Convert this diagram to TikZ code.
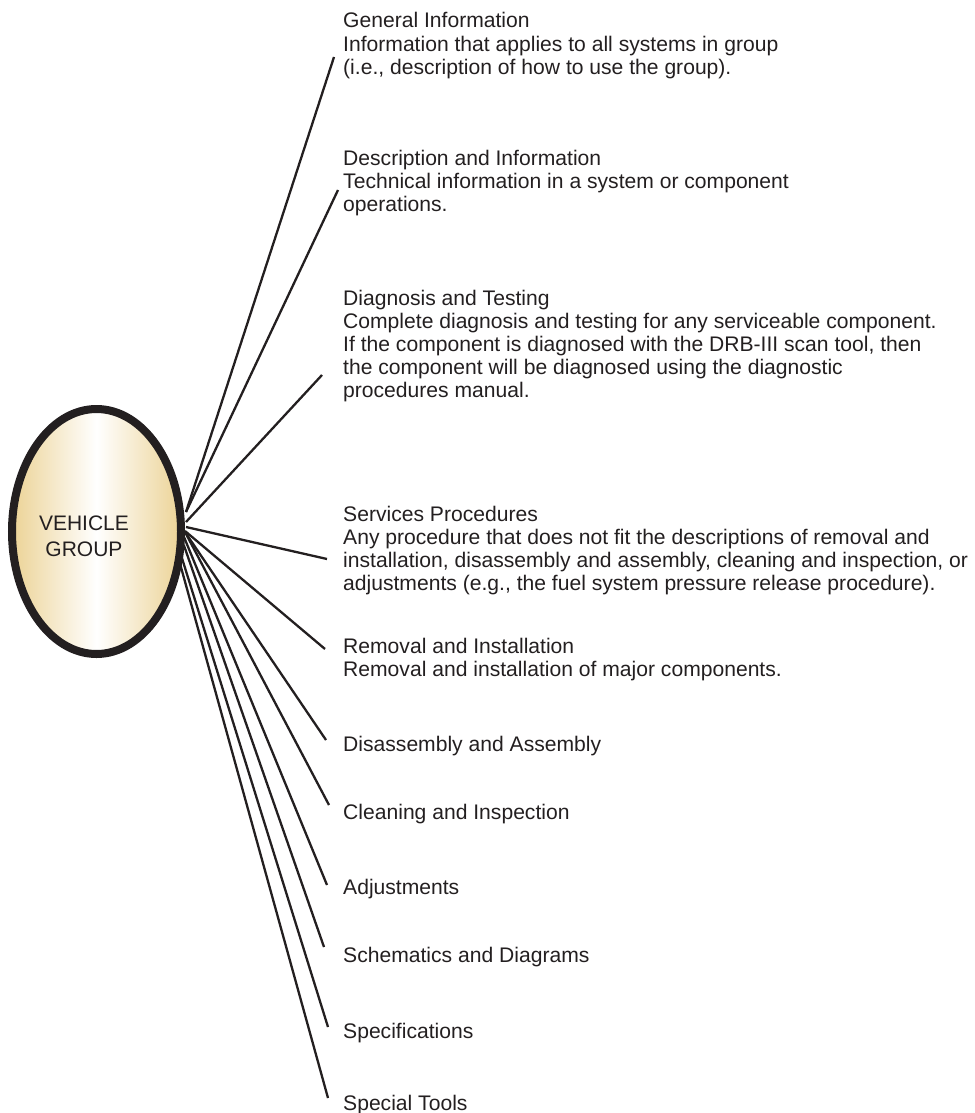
\documentclass[tikz,border=0pt]{standalone}
\usepackage{fontspec}
\setmainfont{Liberation Sans}
\usetikzlibrary{shapes.geometric}
\definecolor{ink}{RGB}{35,31,32}
\definecolor{gold}{RGB}{236,211,150}
\begin{document}
\begin{tikzpicture}[x=1pt,y=-1pt,
  lbl/.style={anchor=base west, align=left, inner sep=0pt, text=ink,
    font=\fontsize{21.1}{23.2}\selectfont},
  spoke/.style={draw=ink, line width=2.3pt},
  hub/.style={ellipse, draw=ink, line width=8pt, minimum width=169pt,
    minimum height=245pt, inner sep=0pt, left color=gold, right color=gold,
    middle color=white},
  hubtext/.style={align=center, inner sep=0pt, text=ink,
    font=\fontsize{21}{26}\selectfont}]
\useasboundingbox (0,0) rectangle (974,1113);

% line start points (inside the ellipse stroke) and end points
\coordinate (s1) at (186,512);  \coordinate (e1) at (334,57);
\coordinate (s2) at (186,512);  \coordinate (e2) at (338,190);
\coordinate (s3) at (186,522);  \coordinate (e3) at (322,375);
\coordinate (s4) at (186,527);  \coordinate (e4) at (327,559);
\coordinate (s5) at (185,531);  \coordinate (e5) at (325,649);
\coordinate (s6) at (185,532);  \coordinate (e6) at (326,740);
\coordinate (s7) at (185,532);  \coordinate (e7) at (329,805);
\coordinate (s8) at (184,537);  \coordinate (e8) at (327,885);
\coordinate (s9) at (183.8,545); \coordinate (e9) at (324,947);
\coordinate (s10) at (181,555); \coordinate (e10) at (328,1027);
\coordinate (s11) at (179,560); \coordinate (e11) at (328,1098);

\foreach \i in {1,...,11} {\draw[spoke] (s\i) -- (e\i);}

\node[hub] (vg) at (96.5,531.5) {};
\node[hubtext] (vgt) at (84,536) {VEHICLE\\GROUP};

% nodes are anchored at the baseline of their last line
\node[lbl] (t1) at (343,74.4) {General Information\\Information that applies to all systems in group\\(i.e., description of how to use the group).};
\node[lbl] (t2) at (343,211.4) {Description and Information\\Technical information in a system or component\\operations.};
\node[lbl] (t3) at (343,397.8) {Diagnosis and Testing\\Complete diagnosis and testing for any serviceable component.\\If the component is diagnosed with the DRB-III scan tool, then\\the component will be diagnosed using the diagnostic\\procedures manual.};
\node[lbl] (t4) at (343,590.6) {Services Procedures\\Any procedure that does not fit the descriptions of removal and\\installation, disassembly and assembly, cleaning and inspection, or\\adjustments (e.g., the fuel system pressure release procedure).};
\node[lbl] (t5) at (343,676.2) {Removal and Installation\\Removal and installation of major components.};
\node[lbl] (t6) at (343,751) {Disassembly and Assembly};
\node[lbl] (t7) at (343,819) {Cleaning and Inspection};
\node[lbl] (t8) at (343,894) {Adjustments};
\node[lbl] (t9) at (343,962) {Schematics and Diagrams};
\node[lbl] (t10) at (343,1038) {Specifications};
\node[lbl] (t11) at (343,1110) {Special Tools};
\end{tikzpicture}
\end{document}
